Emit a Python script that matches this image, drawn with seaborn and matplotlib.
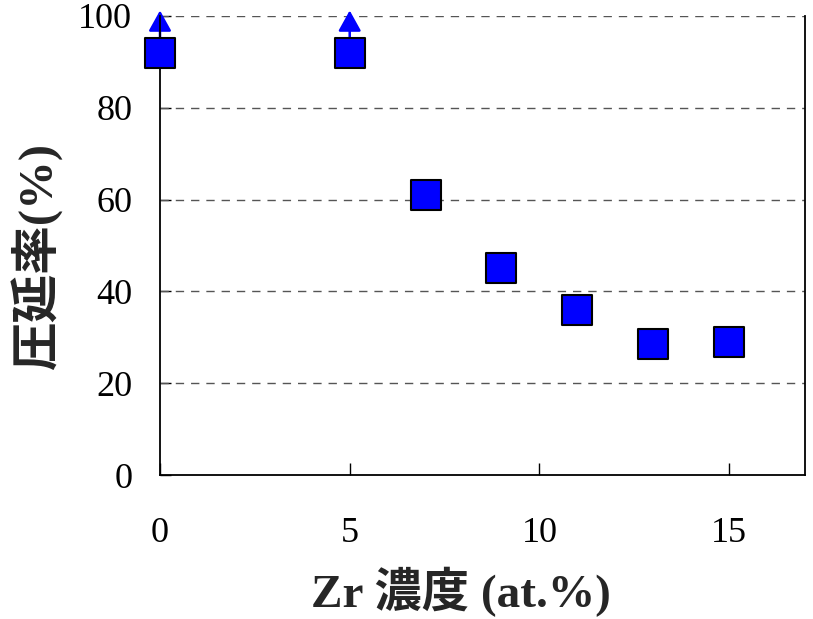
import matplotlib
matplotlib.use("Agg")
import matplotlib.pyplot as plt
import seaborn as sns
import pandas as pd

# Zr content (at.%) and achievable rolling reduction (%)
zr_content = [0, 5, 7, 9, 11, 13, 15]
reduction = [92, 92, 61, 45, 36, 28.5, 29]
# Samples that rolled without cracking (value is a lower bound)
lower_bound = [True, True, False, False, False, False, False]

x_ticks = [0, 5, 10, 15]
y_ticks = [0, 20, 40, 60, 80, 100]

sns.set_theme(style="white")
plt.rcParams["font.family"] = ["Liberation Serif", "Noto Sans CJK JP"]

df = pd.DataFrame({"zr": zr_content, "red": reduction, "lb": lower_bound})

fig = plt.figure(figsize=(8.13, 6.19), dpi=100)
ax = fig.add_axes([160 / 813, 1 - 475 / 619, (805 - 160) / 813, (475 - 16) / 619])

# horizontal dashed guides
for yv in y_ticks[1:]:
    ax.axhline(yv, color="#555555", lw=1.0, ls=(0, (6, 5)), zorder=1)

# arrows marking lower-bound values
for _, row in df[df["lb"]].iterrows():
    ax.annotate("", xy=(row["zr"], 101.2), xytext=(row["zr"], row["red"]),
                arrowprops=dict(arrowstyle="-|>,head_length=0.45,head_width=0.25",
                                color="#0000FF", lw=1.8,
                                mutation_scale=28, shrinkA=0, shrinkB=0),
                annotation_clip=False, zorder=2)

sns.scatterplot(data=df, x="zr", y="red", marker="s", s=22 ** 2,
                color="#0000FF", edgecolor="black", linewidth=1.5,
                ax=ax, zorder=3, clip_on=False, legend=False)

ax.set_xlim(0, 17)
ax.set_ylim(0, 100)
ax.set_xticks(x_ticks)
ax.set_yticks(y_ticks)
ax.tick_params(axis="x", direction="in", length=9, width=1, pad=30,
               labelsize=26, colors="black")
ax.tick_params(axis="y", direction="in", length=8, width=1, pad=20,
               labelsize=26, colors="black")
ax.tick_params(bottom=True, left=True)

for side in ["left", "bottom", "right"]:
    ax.spines[side].set_visible(True)
    ax.spines[side].set_color("black")
    ax.spines[side].set_linewidth(1.3)
ax.spines["top"].set_visible(False)

ax.set_xlabel("Zr 濃度 (at.%)", fontsize=34, fontweight="bold")
ax.set_ylabel("圧延率(%)", fontsize=35, fontweight="bold")
ax.xaxis.set_label_coords(0.466, -0.2)
ax.yaxis.set_label_coords(-0.15, 0.475)

fig.savefig("out.png", dpi=100, facecolor="white")
